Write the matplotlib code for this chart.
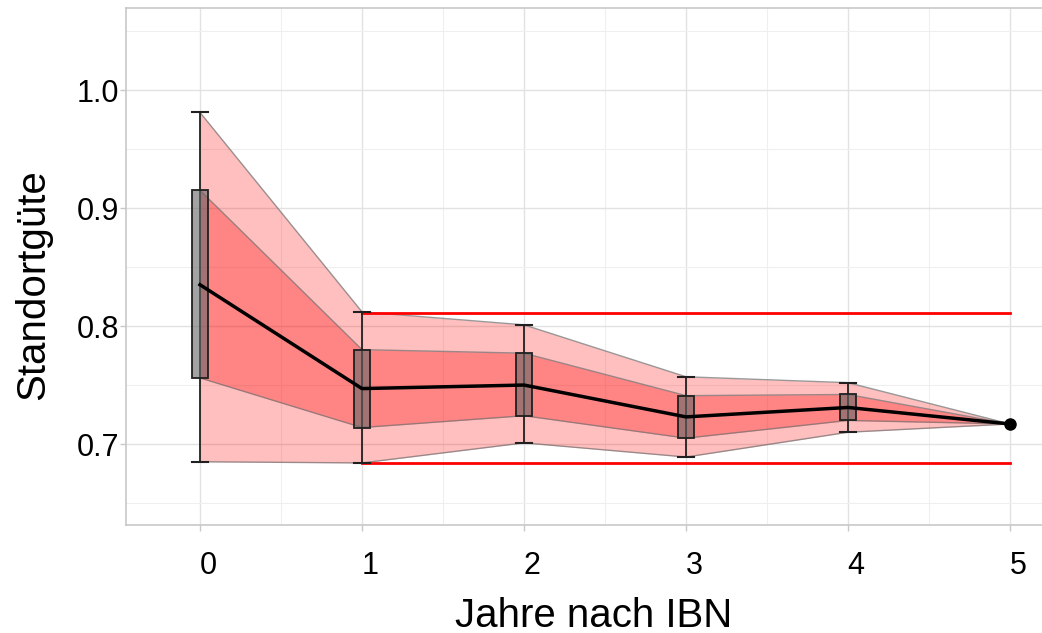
import matplotlib
matplotlib.use('Agg')
import matplotlib.pyplot as plt
import matplotlib.transforms as mtransforms

# values
years = [0, 1, 2, 3, 4, 5]
whisker_hi = [0.981, 0.812, 0.801, 0.757, 0.752, 0.717]
box_hi = [0.915, 0.780, 0.777, 0.741, 0.742, 0.717]
median = [0.835, 0.747, 0.750, 0.723, 0.731, 0.717]
box_lo = [0.756, 0.714, 0.724, 0.705, 0.720, 0.717]
whisker_lo = [0.685, 0.684, 0.701, 0.689, 0.710, 0.717]
ref_years = [1, 5]
ref_hi = 0.811
ref_lo = 0.684

x_ticks = [0, 1, 2, 3, 4, 5]
y_ticks = [0.7, 0.8, 0.9, 1.0]
y_tick_labels = ['0.7', '0.8', '0.9', '1.0']

plt.rcParams['font.family'] = ['Liberation Sans', 'DejaVu Sans']

W, H = 1042, 633
px_per_year = 162
fig = plt.figure(figsize=(W / 100, H / 100), dpi=100)
# panel runs off the right edge of the image
right_px = W + 20
ax = fig.add_axes([126 / W, 1 - 525 / H, (right_px - 126) / W, (525 - 8) / H])

# outer band (whiskers) and inner band (boxes)
ax.fill_between(years, whisker_lo, whisker_hi, color='red', alpha=0.25, lw=0, zorder=2)
ax.fill_between(years, box_lo, box_hi, color='red', alpha=0.3, lw=0, zorder=3)
for s in (whisker_lo, whisker_hi, box_lo, box_hi):
    ax.plot(years, s, color='#707070', lw=1.0, alpha=0.7, zorder=4)

# reference lines
ax.plot(ref_years, [ref_hi, ref_hi], color='red', lw=2, zorder=5)
ax.plot(ref_years, [ref_lo, ref_lo], color='red', lw=2, zorder=5)

# boxplot-like glyphs for years 0..4
w = 0.1
for i in range(len(years) - 1):
    x = years[i]
    ax.plot([x, x], [whisker_lo[i], whisker_hi[i]], color='#202020', lw=1.3, zorder=6)
    ax.plot([x - w / 2, x + w / 2], [whisker_hi[i]] * 2, color='#202020', lw=1.5, zorder=6)
    ax.plot([x - w / 2, x + w / 2], [whisker_lo[i]] * 2, color='#202020', lw=1.5, zorder=6)
    rect = plt.Rectangle((x - w / 2, box_lo[i]), w, box_hi[i] - box_lo[i],
                         facecolor=(0.4, 0.4, 0.4, 0.6), edgecolor='#202020', lw=1.3, zorder=7)
    ax.add_patch(rect)

ax.plot(years, median, color='black', lw=2.5, zorder=8)
ax.plot(years[-1], median[-1], 'o', color='black', ms=8, zorder=9)

x_left = -0.4568
ax.set_xlim(x_left, x_left + (right_px - 126) / px_per_year)
ax.set_ylim(0.6314, 1.0695)

ax.set_xticks(x_ticks)
ax.set_xticklabels([str(v) for v in x_ticks])
ax.set_yticks(y_ticks)
ax.set_yticklabels(y_tick_labels)
ax.set_xticks([v + 0.5 for v in x_ticks[:-1]], minor=True)
ax.set_yticks([0.65, 0.75, 0.85, 0.95, 1.05], minor=True)

ax.grid(which='major', color='#e2e2e2', lw=1.0, zorder=0)
ax.grid(which='minor', color='#efefef', lw=0.8, zorder=0)
ax.set_axisbelow(True)

for side in ('left', 'bottom', 'top'):
    ax.spines[side].set_color('#c8c8c8')
    ax.spines[side].set_linewidth(1.2)
ax.spines['right'].set_visible(False)

ax.tick_params(axis='both', which='major', colors='#c8c8c8', labelcolor='black', labelsize=22, length=4, width=1)
ax.tick_params(axis='y', pad=1)
ax.tick_params(axis='x', pad=15)
ax.tick_params(which='minor', length=0)

offset = mtransforms.ScaledTranslation(8 / 100, 0, fig.dpi_scale_trans)
for lab in ax.get_xticklabels():
    lab.set_transform(lab.get_transform() + offset)

ax.set_xlabel('Jahre nach IBN', fontsize=29, labelpad=11)
ax.set_ylabel('Standortgüte', fontsize=29)
ax.yaxis.set_label_coords((52 - 126) / (right_px - 126), (525 - 285) / 517)

fig.savefig('out.png', dpi=100)
